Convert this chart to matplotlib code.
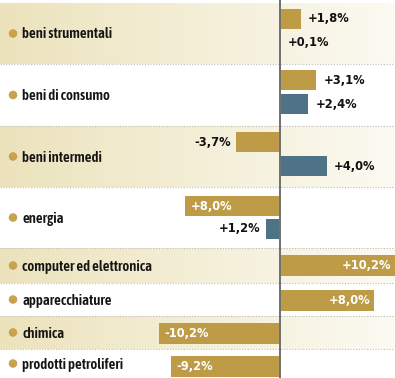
import numpy as np
import matplotlib
matplotlib.use("Agg")
import matplotlib.pyplot as plt
from matplotlib.colors import LinearSegmentedColormap

# upper block: two series per sector
cats_top = ["beni strumentali", "beni di consumo", "beni intermedi", "energia"]
gold_top = [1.8, 3.1, -3.7, -8.0]
blue_top = [0.1, 2.4, 4.0, -1.2]
gold_top_lbl = ["+1,8%", "+3,1%", "-3,7%", "+8,0%"]
blue_top_lbl = ["+0,1%", "+2,4%", "+4,0%", "+1,2%"]

# lower block: one series per sector
cats_bot = ["computer ed elettronica", "apparecchiature", "chimica", "prodotti petroliferi"]
vals_bot = [10.2, 8.0, -10.2, -9.2]
vals_bot_lbl = ["+10,2%", "+8,0%", "-10,2%", "-9,2%"]

GOLD = "#BE9B47"
BLUE = "#4E7386"
BEIGE = "#ECE3BC"
CREAM = "#FCFAF2"
CAT_FONT = ["Asap Condensed", "DejaVu Sans"]
VAL_FONT = ["DejaVu Sans"]

# row bands (top, bottom) in pixel rows
bands = [(3, 64), (64, 126), (126, 187), (187, 248),
         (248, 283), (283, 316), (316, 349), (349, 378)]

W, H = 395, 378
fig = plt.figure(figsize=(W / 100, H / 100), dpi=100)
ax = fig.add_axes([0, 0, 1, 1])
XMIN, XMAX = -23.7, 9.75
ax.set_xlim(XMIN, XMAX)
ax.set_ylim(H, 0)
ax.axis("off")

grad = np.linspace(0, 1, 256).reshape(1, -1)
cmap = LinearSegmentedColormap.from_list("band", [BEIGE, CREAM])

for i, (t, b) in enumerate(bands):
    if i % 2 == 0:
        ax.imshow(grad, extent=(XMIN, XMAX, b, t), aspect="auto", cmap=cmap, zorder=0)
    if i > 0:
        ax.plot([XMIN, XMAX], [t, t], color="#BDBDBD", lw=0.8, ls=(0, (1, 1.5)), zorder=1)

cats = cats_top + cats_bot
xdot = XMIN + 13 / 11.8
xtxt = XMIN + 22 / 11.8
for (t, b), name in zip(bands, cats):
    yc = (t + b) / 2
    ax.scatter([xdot], [yc], s=38, color="#C7A24F", zorder=3, edgecolors="none")
    ax.text(xtxt, yc + 1, name, fontsize=10.6, fontweight=600, family=CAT_FONT,
            color="#151515", va="center", ha="left", zorder=3)


def value_label(x, y, s, color, ha):
    ax.text(x, y, s, color=color, fontsize=8.3, fontweight="bold", family=VAL_FONT,
            ha=ha, va="center", zorder=4)


pad = 0.45
# upper block bars
for i in range(4):
    t, b = bands[i]
    for j, (v, lbl, col) in enumerate([(gold_top[i], gold_top_lbl[i], GOLD),
                                       (blue_top[i], blue_top_lbl[i], BLUE)]):
        y0 = t + 6 + j * 24 if i < 3 else t + 9 + j * 23
        h = 20 if not (i == 0 and j == 1) else 19
        ax.barh(y0 + h / 2, v, height=h, color=col, zorder=2)
        yc = y0 + h / 2
        if i == 3 and j == 0:
            value_label(v + pad, yc, lbl, "white", "left")
        elif v >= 0:
            value_label(v + pad + 0.15, yc, lbl, "#111111", "left")
        else:
            value_label(v - pad, yc, lbl, "#111111", "right")

# lower block bars
for k, (v, lbl) in enumerate(zip(vals_bot, vals_bot_lbl)):
    t, b = bands[4 + k]
    y0 = t + 7
    h = 21
    ax.barh(y0 + h / 2, v, height=h, color=GOLD, zorder=2)
    yc = y0 + h / 2
    if v >= 0:
        value_label(min(v, XMAX) - 0.3, yc, lbl, "white", "right")
    else:
        value_label(v + pad, yc, lbl, "white", "left")

ax.plot([0, 0], [0, H], color="#707070", lw=1.4, zorder=5)

fig.savefig("out.png", dpi=100)
